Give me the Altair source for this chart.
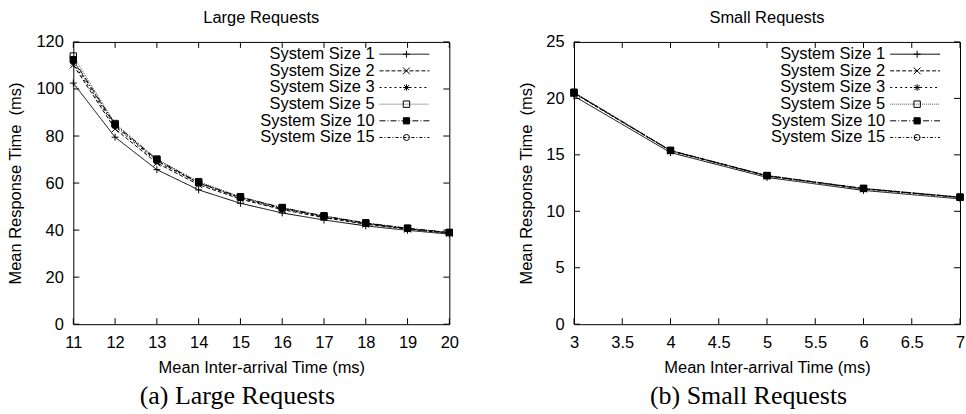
import altair as alt
import pandas as pd

# ---- series and measurements -------------------------------------------
SERIES = ["System Size 1", "System Size 2", "System Size 3",
          "System Size 5", "System Size 10", "System Size 15"]

LARGE_T = [11, 12, 13, 14, 15, 16, 17, 18, 19, 20]
LARGE_SIZE_1 = [102.5, 79.5, 65.7, 57.1, 51.4, 47.3, 44.3, 41.8, 39.9, 38.3]
LARGE_SIZE_2 = [110.2, 83.0, 68.5, 59.3, 53.2, 48.7, 45.3, 42.5, 40.4, 38.6]
LARGE_SIZE_3 = [111.0, 84.0, 69.2, 60.0, 53.6, 49.1, 45.7, 42.8, 40.6, 38.8]
LARGE_SIZE_5 = [114.0, 85.3, 70.2, 60.6, 54.2, 49.6, 46.1, 43.1, 40.8, 39.0]
LARGE_SIZE_10 = [112.5, 85.0, 70.0, 60.2, 54.0, 49.5, 46.0, 43.0, 40.8, 39.0]
LARGE_SIZE_15 = [112.0, 84.5, 69.5, 60.0, 53.8, 49.2, 45.8, 42.9, 40.6, 38.9]

SMALL_T = [3, 4, 5, 6, 7]
SMALL_SIZE_1 = [20.2, 15.2, 13.0, 11.85, 11.1]
SMALL_SIZE_2 = [20.45, 15.35, 13.12, 11.98, 11.22]
SMALL_SIZE_3 = [20.5, 15.37, 13.15, 12.0, 11.24]
SMALL_SIZE_5 = [20.55, 15.4, 13.17, 12.03, 11.26]
SMALL_SIZE_10 = [20.5, 15.38, 13.16, 12.02, 11.25]
SMALL_SIZE_15 = [20.48, 15.37, 13.15, 12.0, 11.24]

LARGE_XTICKS = [11, 12, 13, 14, 15, 16, 17, 18, 19, 20]
LARGE_YTICKS = [0, 20, 40, 60, 80, 100, 120]
SMALL_XTICKS = [3, 3.5, 4, 4.5, 5, 5.5, 6, 6.5, 7]
SMALL_YTICKS = [0, 5, 10, 15, 20, 25]

PANEL_TITLES = ["Large Requests", "Small Requests"]
CAPTIONS = ["(a) Large Requests", "(b) Small Requests"]
X_TITLE = "Mean Inter-arrival Time (ms)"
Y_TITLE = "Mean Response Time\u00a0 (ms)"

# ---- styling --------------------------------------------------------------
SANS = "Liberation Sans"
SERIF = "Liberation Serif"
FS = 16.5

DASHES = [[1, 0], [4, 2], [2, 3], [1, 1], [6, 2, 1, 2], [3, 2, 1, 2]]
STROKES = ["black", "black", "black", "#555555", "black", "black"]
PLUS = "M-1,0L1,0M0,-1L0,1"
CROSS = "M-1,-1L1,1M-1,1L1,-1"
STAR = "M-1,0L1,0M0,-1L0,1M-0.75,-0.75L0.75,0.75M-0.75,0.75L0.75,-0.75"
SHAPES = [PLUS, CROSS, STAR, "square", "square", "circle"]
FILLS = ["transparent", "transparent", "transparent", "transparent", "black", "transparent"]
SIZES = [49, 36, 42, 36, 49, 30]

TICK_LEN = 6


def long_form(t_vals, columns):
    rows = []
    for name, vals in zip(SERIES, columns):
        for t, v in zip(t_vals, vals):
            rows.append({"t": t, "rt": v, "series": name})
    return pd.DataFrame(rows)


def panel(df, xticks, yticks, xdom, ydom, title, caption, width, height,
          ytitle_x, caption_x, legend_right, xfmt):
    x_enc = alt.X("t:Q", scale=alt.Scale(domain=xdom, nice=False, zero=False),
                  axis=alt.Axis(values=xticks, format=xfmt, title=X_TITLE,
                                titleY=48, titleBaseline="alphabetic"))
    y_enc = alt.Y("rt:Q", scale=alt.Scale(domain=ydom, nice=False, zero=True),
                  axis=alt.Axis(values=yticks, title=Y_TITLE,
                                titleX=ytitle_x, titleBaseline="bottom"))
    dash = alt.StrokeDash("series:N", scale=alt.Scale(domain=SERIES, range=DASHES), legend=None)
    stroke = alt.Stroke("series:N", scale=alt.Scale(domain=SERIES, range=STROKES), legend=None)
    shape = alt.Shape("series:N", scale=alt.Scale(domain=SERIES, range=SHAPES), legend=None)
    fill = alt.Fill("series:N", scale=alt.Scale(domain=SERIES, range=FILLS), legend=None)
    size = alt.Size("series:N", scale=alt.Scale(domain=SERIES, range=SIZES), legend=None)

    base = alt.Chart(df)
    lines = base.mark_line(strokeWidth=1).encode(x=x_enc, y=y_enc, strokeDash=dash, stroke=stroke)
    points = base.mark_point(filled=False, strokeWidth=1, opacity=1, color="black").encode(
        x=x_enc, y=y_enc, shape=shape, fill=fill, size=size)

    # inward ticks mirrored on all four sides of the frame
    xt = alt.Chart(pd.DataFrame({"t": xticks}))
    yt = alt.Chart(pd.DataFrame({"rt": yticks}))
    rule = dict(color="black", strokeWidth=1)
    ticks = [
        xt.mark_rule(**rule).encode(x=x_enc, y=alt.value(height), y2=alt.value(height - TICK_LEN)),
        xt.mark_rule(**rule).encode(x=x_enc, y=alt.value(0), y2=alt.value(TICK_LEN)),
        yt.mark_rule(**rule).encode(y=y_enc, x=alt.value(0), x2=alt.value(TICK_LEN)),
        yt.mark_rule(**rule).encode(y=y_enc, x=alt.value(width - TICK_LEN), x2=alt.value(width)),
    ]

    # key in the top-right corner: label, line sample, marker
    key = alt.Chart(pd.DataFrame({"series": SERIES, "idx": list(range(len(SERIES)))})).transform_calculate(
        ly="12.3 + 16.7 * datum.idx")
    ly = alt.Y("ly:Q", scale=None, axis=None)
    line_x0 = width - legend_right - 50
    key_text = key.mark_text(align="right", baseline="middle", font=SANS, fontSize=FS,
                             color="black").encode(
        x=alt.value(line_x0 - 5), y=ly, text="series:N")
    key_line = key.mark_rule(strokeWidth=1).encode(
        x=alt.value(line_x0), x2=alt.value(width - legend_right), y=ly,
        strokeDash=dash, stroke=stroke)
    key_mark = key.mark_point(filled=False, strokeWidth=1, opacity=1, color="black").encode(
        x=alt.value(line_x0 + 27), y=ly, shape=shape, fill=fill, size=size)

    # panel heading above the frame and sub-figure caption below the axis title
    head = alt.Chart(pd.DataFrame({"h": [title]})).mark_text(
        font=SANS, fontSize=FS, baseline="bottom", align="center", color="black").encode(
        x=alt.value(width / 2), y=alt.value(-16), text="h:N")
    cap = alt.Chart(pd.DataFrame({"c": [caption]})).mark_text(
        font=SERIF, fontSize=26, baseline="alphabetic", align="center", color="black").encode(
        x=alt.value(caption_x), y=alt.value(height + 80), text="c:N")

    return alt.layer(lines, points, *ticks, key_line, key_mark, key_text, head, cap).properties(
        width=width, height=height)


large_df = long_form(LARGE_T, [LARGE_SIZE_1, LARGE_SIZE_2, LARGE_SIZE_3,
                               LARGE_SIZE_5, LARGE_SIZE_10, LARGE_SIZE_15])
small_df = long_form(SMALL_T, [SMALL_SIZE_1, SMALL_SIZE_2, SMALL_SIZE_3,
                               SMALL_SIZE_5, SMALL_SIZE_10, SMALL_SIZE_15])

left = panel(large_df, LARGE_XTICKS, LARGE_YTICKS, [11, 20], [0, 120],
             PANEL_TITLES[0], CAPTIONS[0], 377, 283, -50, 164.5, 20, "d")
right = panel(small_df, SMALL_XTICKS, SMALL_YTICKS, [3, 7], [0, 25],
              PANEL_TITLES[1], CAPTIONS[1], 387, 283, -40, 175, 20, "~g")

chart = alt.hconcat(left, right, spacing=125, bounds="flush").properties(
    padding={"left": 6.5, "top": 8.5, "right": 0, "bottom": 4}
).configure_view(
    stroke="black", strokeWidth=1
).configure_axis(
    labelFont=SANS, labelFontSize=FS, labelColor="black", labelPadding=10,
    labelFlush=False, labelOverlap=False,
    titleFont=SANS, titleFontSize=FS, titleFontWeight="normal", titleColor="black",
    ticks=False, domain=False, grid=False
)

chart.save("out.html", embed_options={"renderer": "svg", "actions": False})
